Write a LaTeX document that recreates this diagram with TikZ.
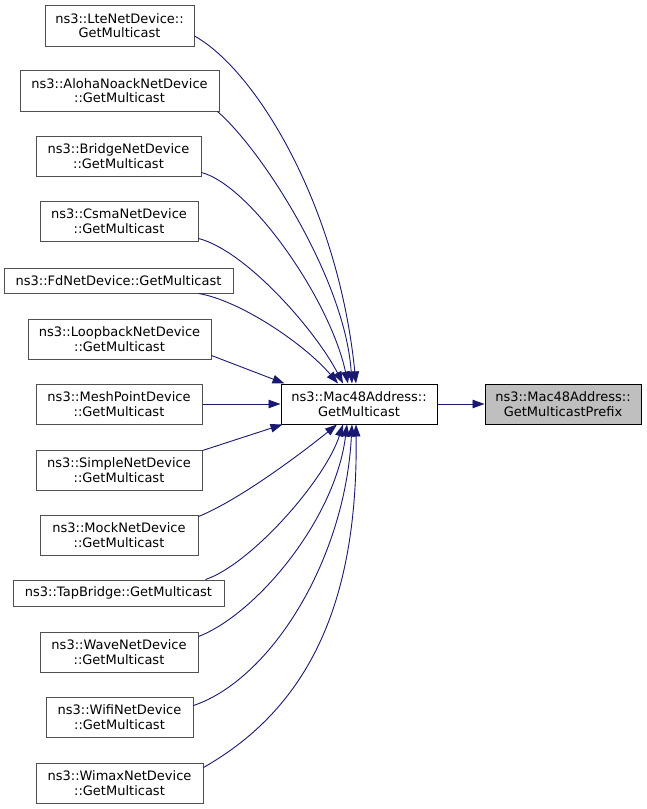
\documentclass[tikz,border=0pt]{standalone}
\usepackage{fontspec}
\newfontfamily\dvs{DejaVu Sans}
\usetikzlibrary{arrows.meta}
\definecolor{edgeblue}{RGB}{25,25,112}
\definecolor{boxgray}{RGB}{80,80,80}
\definecolor{rootfill}{RGB}{191,191,191}
\begin{document}
\begin{tikzpicture}[x=1pt,y=-1pt,
  fnbox/.style={draw=boxgray, fill=white, line width=1pt, inner sep=0pt, align=center,
    font=\dvs\fontsize{13}{14.5}\selectfont},
  callee/.style={fnbox, draw=black},
  rootbox/.style={fnbox, draw=black, fill=rootfill},
  calledge/.style={draw=edgeblue, line width=0.9pt, -{Triangle[length=12pt,width=8.5pt]}, fill=none}
]
\useasboundingbox (0,0) rectangle (647,809);
\fill[white] (0,0) rectangle (647,809);

\node[fnbox, minimum width=149pt, minimum height=41pt] (lte) at (119.5,25.5) {ns3::LteNetDevice::\\GetMulticast};
\node[fnbox, minimum width=199pt, minimum height=41pt] (aloha) at (119.5,90.5) {ns3::AlohaNoackNetDevice\\::GetMulticast};
\node[fnbox, minimum width=165pt, minimum height=40pt] (bridge) at (118.5,156) {ns3::BridgeNetDevice\\::GetMulticast};
\node[fnbox, minimum width=158pt, minimum height=40pt] (csma) at (119,221) {ns3::CsmaNetDevice\\::GetMulticast};
\node[fnbox, minimum width=229pt, minimum height=25pt] (fd) at (118.5,280.5) {ns3::FdNetDevice::GetMulticast};
\node[fnbox, minimum width=183pt, minimum height=40pt] (loop) at (119.5,339) {ns3::LoopbackNetDevice\\::GetMulticast};
\node[fnbox, minimum width=166pt, minimum height=40pt] (mesh) at (119,404) {ns3::MeshPointDevice\\::GetMulticast};
\node[fnbox, minimum width=166pt, minimum height=40pt] (simple) at (119,470) {ns3::SimpleNetDevice\\::GetMulticast};
\node[fnbox, minimum width=158pt, minimum height=40pt] (mock) at (119,535) {ns3::MockNetDevice\\::GetMulticast};
\node[fnbox, minimum width=211pt, minimum height=26pt] (tap) at (118.5,593) {ns3::TapBridge::GetMulticast};
\node[fnbox, minimum width=158pt, minimum height=40pt] (wave) at (119,652) {ns3::WaveNetDevice\\::GetMulticast};
\node[fnbox, minimum width=147pt, minimum height=40pt] (wifi) at (119.5,717) {ns3::WifiNetDevice\\::GetMulticast};
\node[fnbox, minimum width=167pt, minimum height=40pt] (wimax) at (119.5,783) {ns3::WimaxNetDevice\\::GetMulticast};

\node[callee, minimum width=156pt, minimum height=40pt] (m) at (359,404) {ns3::Mac48Address::\\GetMulticast};
\node[rootbox, minimum width=156pt, minimum height=40pt] (p) at (563,404) {ns3::Mac48Address::\\GetMulticastPrefix};

% upper callers
\draw[calledge] ([yshift=-10.5pt]lte.east) .. controls +(61,34) and +(-18,-179) .. ([xshift=-3pt]m.north);
\draw[calledge] ([xshift=-2pt]aloha.south east) .. controls +(45,39) and +(-7,-104) .. ([xshift=-7pt]m.north);
\draw[calledge] ([yshift=4pt]bridge.south east) .. controls +(49,13) and +(-18,-84) .. ([xshift=-11pt]m.north);
\draw[calledge] ([yshift=3pt]csma.south east) .. controls +(47,12) and +(-28,-54) .. ([xshift=-16pt]m.north);
\draw[calledge] ([xshift=-35pt]fd.south east) .. controls +(42,7) and +(-33,-39) .. ([xshift=-21pt]m.north);
\draw[calledge] ([yshift=4pt]loop.south east) -- ([xshift=4pt]m.north west);
\draw[calledge] (mesh.east) -- (m.west);
\draw[calledge] ([yshift=-1pt]simple.north east) -- ([xshift=2pt]m.south west);
% lower callers
\draw[calledge] ([yshift=-2pt]mock.north east) .. controls +(42,-17) and +(-32,26) .. ([xshift=-22pt]m.south);
\draw[calledge] ([xshift=-19pt]tap.north east) .. controls +(45,-15) and +(-18,56) .. ([xshift=-16pt]m.south);
\draw[calledge] ([yshift=-5pt]wave.north east) .. controls +(57,-22) and +(-12,96) .. ([xshift=-12pt]m.south);
\draw[calledge] ([yshift=-9pt]wifi.north east) .. controls +(77,-26) and +(-7,136) .. ([xshift=-7pt]m.south);
\draw[calledge] ([yshift=-5pt]wimax.north east) .. controls +(107,-61) and +(2,176) .. ([xshift=-3pt]m.south);
% callee to prefix
\draw[calledge] (m.east) -- (p.west);
\end{tikzpicture}
\end{document}
